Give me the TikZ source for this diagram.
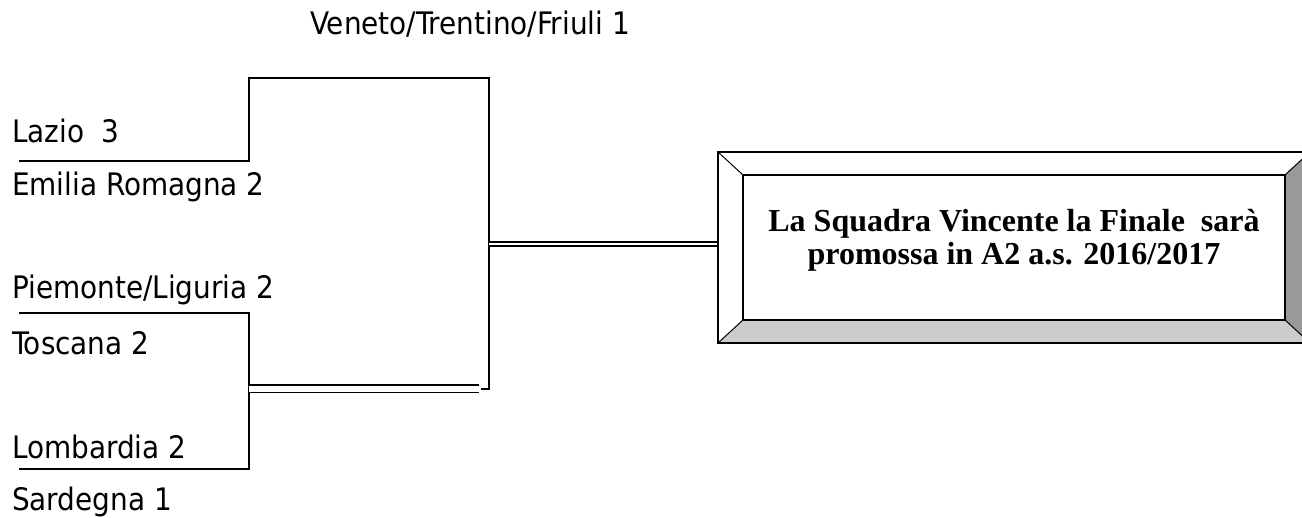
\documentclass[tikz,border=0pt]{standalone}
\usepackage{fontspec}
\setmainfont{Liberation Serif}
\newfontfamily\regionfont{DejaVu Sans Condensed}
\definecolor{bevellight}{RGB}{204,204,204}
\definecolor{beveldark}{RGB}{153,153,153}
\tikzset{x=1pt, y=-1pt,
  team/.style={anchor=base west, inner sep=0pt, font=\regionfont\fontsize{31}{36}\selectfont},
  final/.style={anchor=base, inner sep=0pt, font=\bfseries\fontsize{32}{33}\selectfont},
  bracket/.style={line width=1.8pt},
  twin/.style={double, double distance=2.6pt, line width=1.5pt}}

\begin{document}
\begin{tikzpicture}
  \useasboundingbox (0,0) rectangle (1302,518);
  \node (V) [team] at (310,35) {Veneto/Trentino/Friuli 1};
  \node (La) [team] at (12,143) {Lazio\ \ 3};
  \node (E) [team] at (12,196) {Emilia Romagna 2};
  \node (P) [team] at (12,299) {Piemonte/Liguria 2};
  \node (T) [team] at (12,355) {Toscana 2};
  \node (Lo) [team] at (12,459) {Lombardia 2};
  \node (S) [team] at (12,511) {Sardegna 1};

  \coordinate (a) at (19,161);
  \coordinate (b) at (19,313);
  \coordinate (c) at (19,469);
  \coordinate (m) at (249,389);
  \coordinate (n) at (479,389);
  \coordinate (o) at (489,244);
  \coordinate (f) at (718,244);

 \draw[bracket] (a) -| (249,78) -| (489,389) -- (481,389);
 \draw[bracket] (b) -| (249,469) -- (c);
 \draw[twin, double distance=6pt] (m) -- (n);
 \draw[twin] (o) -- (f);

  % the final box
  \begin{scope}
  \clip (0,0) rectangle (1302,518);
  \fill[white] (718,152) rectangle (1310,343);
  \fill[bevellight] (718,343) -- (743,320) -- (1285,320) -- (1310,343) -- cycle;
  \fill[beveldark] (1310,152) -- (1285,175) -- (1285,320) -- (1310,343) -- cycle;
  \draw[line width=1.6pt] (718,152) rectangle (1310,343);
  \draw[line width=1.6pt] (743,175) rectangle (1285,320);
  \draw[line width=1pt] (718,152) -- (743,175) (1310,152) -- (1285,175)
    (718,343) -- (743,320) (1310,343) -- (1285,320);
  \end{scope}
  \node (F1) [final] at (1014,232) {La Squadra Vincente la Finale\ \ sarà};
  \node (F2) [final] at (1014,265) {promossa in A2 a.s. 2016/2017};
\end{tikzpicture}
\end{document}
